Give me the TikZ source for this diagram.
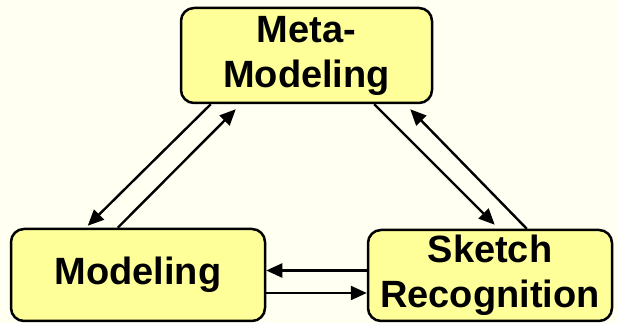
\documentclass[tikz,border=0pt]{standalone}
\usepackage{fontspec}
\setmainfont{Liberation Sans}
\usetikzlibrary{arrows.meta}
\definecolor{bgcream}{RGB}{255,255,242}
\definecolor{boxyellow}{RGB}{255,255,153}
\tikzset{
  box/.style={draw=black, line width=2.5pt, fill=boxyellow, rounded corners=13pt,
    align=center, inner sep=0pt,
    font=\fontsize{38}{45}\selectfont\bfseries},
  link/.style={line width=2.4pt, -{Triangle[length=16pt,width=14pt]}}
}
\begin{document}
\begin{tikzpicture}[x=1pt,y=1pt]
  \fill[bgcream] (0,0) rectangle (618,323);
  \useasboundingbox (0,0) rectangle (618,323);
  \node[box, minimum width=251pt, minimum height=95pt] (meta) at (306.5,267.5) {Meta-\\Modeling};
  \node[box, minimum width=254pt, minimum height=92pt] (model) at (138,48) {Modeling};
  \node[box, minimum width=244pt, minimum height=91pt] (sketch) at (490,47.5) {Sketch\\Recognition};
  % left pair
  \draw[link] ([xshift=31pt]meta.south west) -- ([xshift=78pt,yshift=2pt]model.north west);
  \draw[link] ([xshift=108pt]model.north west) -- ([xshift=56pt,yshift=-5pt]meta.south west);
  % right pair
  \draw[link] ([xshift=-59pt]meta.south east) -- ([xshift=128pt,yshift=4pt]sketch.north west);
  \draw[link] ([xshift=160pt]sketch.north west) -- ([xshift=-23pt,yshift=-5pt]meta.south east);
  % horizontal pair
  \draw[link] ([yshift=5pt]sketch.west) -- ([yshift=5pt]sketch.west -| model.east);
  \draw[link] ([yshift=-18pt]model.east) -- ([yshift=-18pt]model.east -| sketch.west);
\end{tikzpicture}
\end{document}
